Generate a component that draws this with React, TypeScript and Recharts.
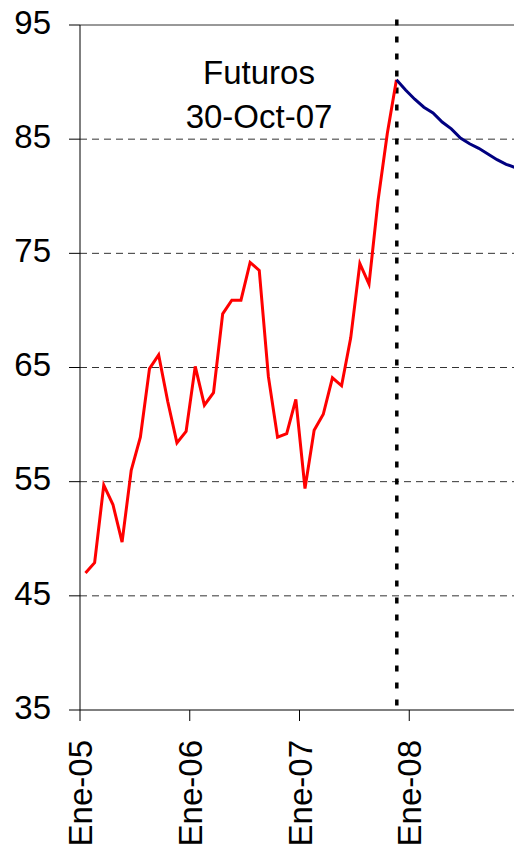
import { LineChart, Line, XAxis, YAxis, CartesianGrid, ReferenceLine } from "recharts";

// monthly average price, Ene-05 .. Nov-07
const spotValues = [
  47.0, 47.9, 54.7, 53.0, 49.7, 56.0, 58.9, 64.9, 66.1, 62.0, 58.4, 59.4,
  65.1, 61.7, 62.8, 69.7, 70.9, 70.9, 74.2, 73.5, 64.2, 58.9, 59.2, 62.2,
  54.4, 59.5, 60.9, 64.1, 63.4, 67.6, 74.1, 72.3, 79.7, 85.5, 90.2,
];

// futures curve as of 30-Oct-07, Nov-07 .. Dic-08
const futuresValues = [90.2, 89.3, 88.5, 87.8, 87.3, 86.5, 85.9, 85.1, 84.6, 84.2, 83.7, 83.2, 82.8, 82.5];
const futuresStart = 34;

const yearTicks = [0, 12, 24, 36];
const yearLabels = ["Ene-05", "Ene-06", "Ene-07", "Ene-08"];
const yTicks = [35, 45, 55, 65, 75, 85, 95];
const gridValues = [45, 55, 65, 75, 85];

const monthCount = futuresStart + futuresValues.length;
const data = Array.from({ length: monthCount }, (_, i) => ({
  t: i + 0.6,
  spot: i < spotValues.length ? spotValues[i] : null,
  futures: i >= futuresStart ? futuresValues[i - futuresStart] : null,
}));

const font = "'Liberation Sans', Arial, sans-serif";

function YearTick(props: any) {
  const { x, y, payload } = props;
  const label = yearLabels[yearTicks.indexOf(payload.value)] ?? "";
  return (
    <text
      transform={`translate(${x + 12},${y + 17}) rotate(-90)`}
      textAnchor="end"
      fontSize={33}
      fontFamily={font}
      fill="#000"
    >
      {label}
    </text>
  );
}

export default function App() {
  return (
    <div style={{ position: "absolute", left: 0, top: 0, width: 514, height: 853, overflow: "hidden", background: "#fff" }}>
      <LineChart width={530} height={853} data={data} margin={{ top: 25, right: 11, left: 0, bottom: 0 }}>
        <CartesianGrid horizontal vertical={false} horizontalValues={gridValues} stroke="#333" strokeDasharray="7 5" />
        <ReferenceLine y={95} stroke="#333" />
        <XAxis
          dataKey="t"
          type="number"
          domain={[0, 48]}
          ticks={yearTicks}
          interval={0}
          height={143}
          tickSize={11}
          stroke="#000"
          axisLine={{ stroke: "#000" }}
          tickLine={{ stroke: "#000" }}
          tick={YearTick}
        />
        <YAxis
          domain={[35, 95]}
          ticks={yTicks}
          interval={0}
          width={80}
          tickSize={11}
          tickMargin={18}
          stroke="#000"
          axisLine={{ stroke: "#000" }}
          tickLine={{ stroke: "#000" }}
          tick={{ fill: "#000", fontSize: 33, fontFamily: font, dy: -3 }}
        />
        <ReferenceLine
          segment={[{ x: 34.64, y: 35.4 }, { x: 34.64, y: 95.6 }]}
          ifOverflow="visible"
          stroke="#000"
          strokeWidth={3.5}
          strokeDasharray="6 11"
        />
        <Line type="linear" dataKey="spot" stroke="#ff0000" strokeWidth={3} dot={false} isAnimationActive={false} />
        <Line type="linear" dataKey="futures" stroke="#000080" strokeWidth={3} dot={false} isAnimationActive={false} />
      </LineChart>
      <div
        style={{
          position: "absolute",
          left: 159,
          top: 51,
          width: 200,
          textAlign: "center",
          fontFamily: font,
          fontSize: 33,
          lineHeight: "44px",
          color: "#000",
        }}
      >
        Futuros
        <br />
        30-Oct-07
      </div>
    </div>
  );
}
